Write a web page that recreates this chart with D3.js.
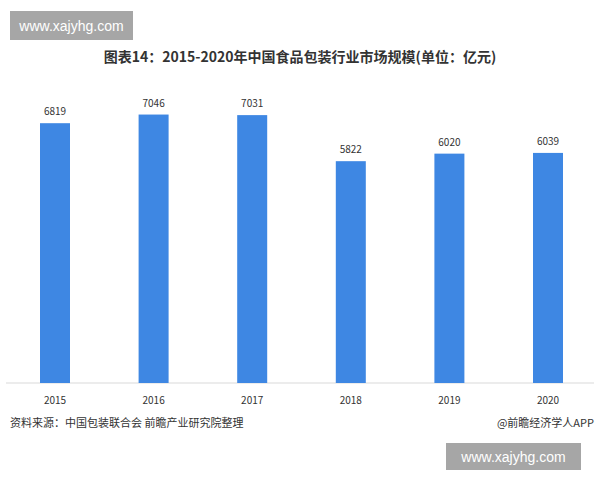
<!DOCTYPE html>
<html><head><meta charset="utf-8">
<script src="https://cdn.jsdelivr.net/npm/d3@7"></script>
<style>body{margin:0;background:#fff}svg{display:block;font-family:"Noto Sans CJK SC","Noto Sans",sans-serif}</style>
</head><body><div id="chart"></div>
<script>
// chart data
const years = ["2015", "2016", "2017", "2018", "2019", "2020"];
const values = [6819, 7046, 7031, 5822, 6020, 6039];

const width = 600, height = 480;
const baseline = 383;

const svg = d3.select("#chart").append("svg")
    .attr("width", width).attr("height", height);

const x = d3.scalePoint().domain(years).range([55, 548]);
const y = d3.scaleLinear().domain([0, 10000]).range([baseline, baseline - 381]);
const bw = 30;

// title
svg.append("text").attr("x", 300).attr("y", 62).attr("text-anchor", "middle")
    .attr("font-size", 14).attr("font-weight", "bold").attr("fill", "#333")
    .text("图表14：2015-2020年中国食品包装行业市场规模(单位：亿元)");

// baseline
svg.append("line").attr("x1", 6).attr("x2", 594)
    .attr("y1", baseline).attr("y2", baseline)
    .attr("stroke", "#d9d9d9");

svg.selectAll("rect.bar").data(values).enter().append("rect")
    .attr("class", "bar")
    .attr("x", (d, i) => x(years[i]) - bw / 2)
    .attr("width", bw)
    .attr("y", d => y(d))
    .attr("height", d => baseline - y(d))
    .attr("fill", "#3e87e3");

svg.selectAll("text.val").data(values).enter().append("text")
    .attr("x", (d, i) => x(years[i]))
    .attr("y", d => y(d) - 8)
    .attr("text-anchor", "middle").attr("font-size", 10).attr("fill", "#333")
    .text(d => d);

// x labels
svg.selectAll("text.yr").data(years).enter().append("text")
    .attr("x", d => x(d)).attr("y", 404)
    .attr("text-anchor", "middle").attr("font-size", 10).attr("fill", "#333")
    .text(d => d);

// source
svg.append("text").attr("x", 10).attr("y", 427).attr("font-size", 11).attr("fill", "#333")
    .text("资料来源：中国包装联合会 前瞻产业研究院整理");
svg.append("text").attr("x", 594).attr("y", 427).attr("text-anchor", "end")
    .attr("font-size", 11).attr("fill", "#333").text("@前瞻经济学人APP");

// site stamps
function stamp(x0, y0, w, h) {
    svg.append("rect").attr("x", x0).attr("y", y0).attr("width", w).attr("height", h)
        .attr("fill", "#a6a6a6");
    svg.append("text").attr("x", x0 + w / 2).attr("y", y0 + h / 2 + 5)
        .attr("text-anchor", "middle").attr("font-size", 14).attr("fill", "#fff")
        .attr("font-family", "Liberation Sans, Arial, sans-serif")
        .text("www.xajyhg.com");
}
stamp(10, 11, 123, 29);
stamp(446, 443, 135, 27);
</script></body></html>
